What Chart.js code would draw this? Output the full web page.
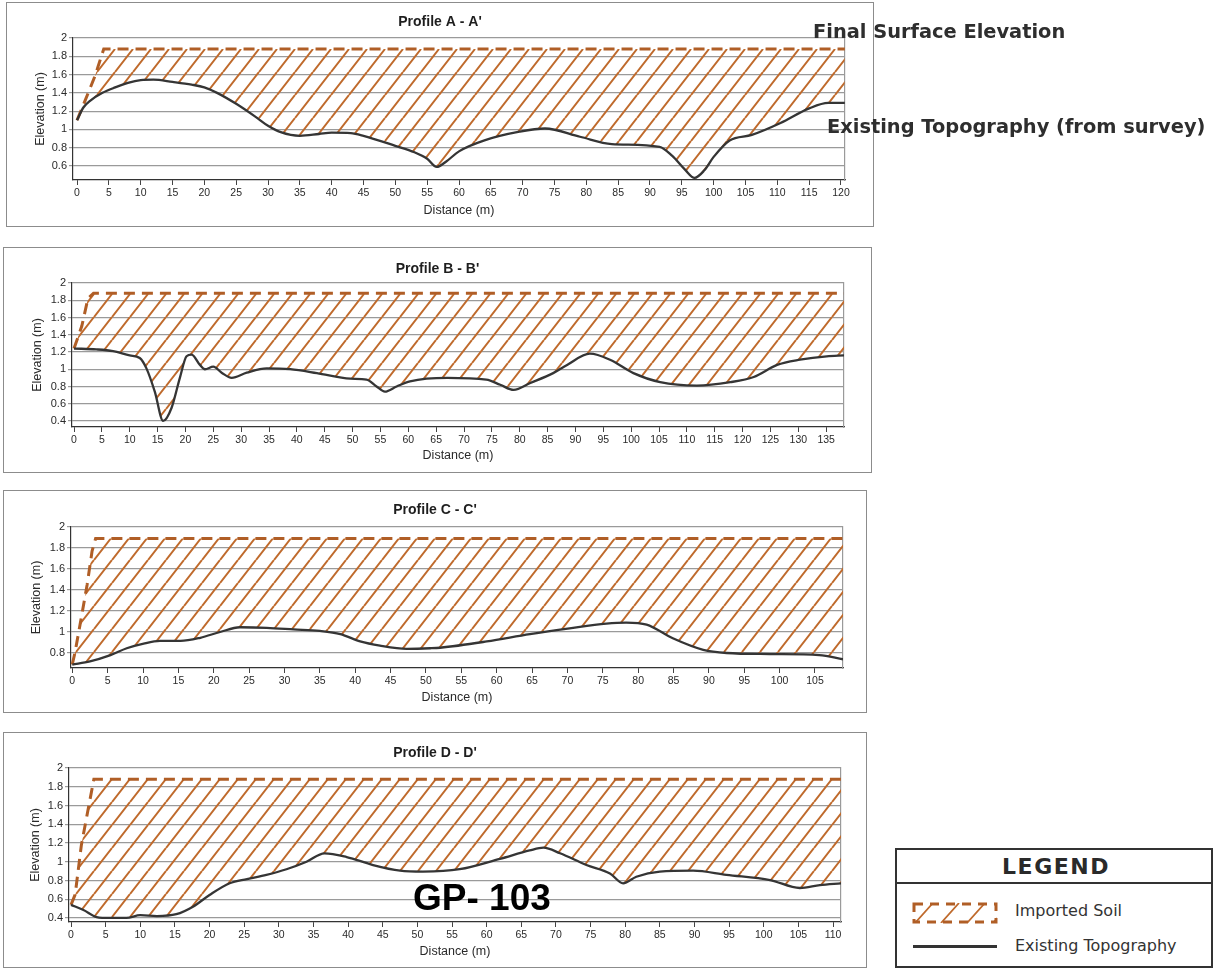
<!DOCTYPE html>
<html>
<head>
<meta charset="utf-8">
<title>Soil profiles GP-103</title>
<script src="https://cdn.jsdelivr.net/npm/chart.js@4.4.1/dist/chart.umd.min.js"></script>
<style>
  body { margin: 0; background: #fff; width: 1225px; height: 972px; overflow: hidden; position: relative;
         font-family: 'Liberation Sans', Arial, sans-serif; }
  .box { position: absolute; border: 1px solid #8c8c8c; background: #fff; }
  .box canvas { position: absolute; left: 0; top: 0; }
  .note { position: absolute; font-family: 'DejaVu Sans', Verdana, sans-serif; font-weight: bold;
          color: #2e2e2e; white-space: nowrap; font-size: 19.4px; line-height: 22px; }
  #gp { position: absolute; left: 413px; top: 878px; font: bold 37px/40px 'Liberation Sans', Arial, sans-serif; color: #000; }
  #legend { position: absolute; left: 895px; top: 848px; width: 314px; height: 116px; border: 2px solid #333; background: #fff;
            font-family: 'DejaVu Sans', Verdana, sans-serif; color: #333; }
  #legend .head { height: 32px; border-bottom: 2px solid #333; text-align: center; font-weight: bold; font-size: 22px;
                  line-height: 33px; letter-spacing: 1.5px; color: #2a2a2a; padding-left: 4px; }
  #legend .row { position: absolute; left: 118px; font-size: 16px; line-height: 20px; }
  #swatch { position: absolute; left: 14px; top: 51px; }
  #topoLine { position: absolute; left: 16px; top: 95px; width: 84px; height: 3px; background: #333; }
</style>
</head>
<body>

<div class="box" id="boxA"><canvas id="chartA"></canvas></div>
<div class="box" id="boxB"><canvas id="chartB"></canvas></div>
<div class="box" id="boxC"><canvas id="chartC"></canvas></div>
<div class="box" id="boxD"><canvas id="chartD"></canvas></div>

<div class="note" style="left:813px; top:21px;">Final Surface Elevation</div>
<div class="note" style="left:827px; top:116px;">Existing Topography (from survey)</div>
<div id="gp">GP- 103</div>

<div id="legend">
  <div class="head">LEGEND</div>
  <canvas id="swatch" width="90" height="24"></canvas>
  <div class="row" style="top:51px;">Imported Soil</div>
  <div id="topoLine"></div>
  <div class="row" style="top:86px;">Existing Topography</div>
</div>

<script>
// ---- Profile A - A' ----
const profileA_dist = [0, 1, 2, 4, 6, 8, 10, 12, 15, 18, 20, 22, 25, 28, 30, 32, 35, 38, 40, 43, 45, 50, 53, 55, 56.5, 58, 60, 64, 69.5, 73.5, 79, 84, 91.5, 93.5, 95.5, 97, 98.5, 100, 102.5, 106, 110.5, 115, 118, 120.6];
const profileA_elev = [1.1, 1.24, 1.31, 1.4, 1.46, 1.51, 1.54, 1.545, 1.52, 1.49, 1.46, 1.4, 1.28, 1.14, 1.04, 0.97, 0.93, 0.95, 0.965, 0.96, 0.93, 0.82, 0.75, 0.68, 0.59, 0.65, 0.76, 0.88, 0.975, 1.01, 0.92, 0.84, 0.81, 0.71, 0.56, 0.47, 0.55, 0.7, 0.88, 0.94, 1.07, 1.23, 1.29, 1.29];
const profileA_finalDist = [0, 1.3, 2.8, 4.2, 120.6];
const profileA_finalElev = [1.1, 1.32, 1.58, 1.88, 1.88];

// ---- Profile B - B' ----
const profileB_dist = [0, 4, 7, 10, 11.8, 13, 14.5, 16, 17.5, 19, 20.2, 21.1, 22.6, 23.5, 25, 26.5, 28.3, 31, 34.6, 38.8, 43.6, 49.6, 52.5, 54.3, 55.8, 57.9, 60.3, 67, 74, 76.5, 78.9, 81.9, 86, 88.5, 92.6, 96.2, 100.4, 105.2, 111.8, 117.8, 122, 126.2, 130.3, 135.1, 138.2];
const profileB_elev = [1.24, 1.23, 1.21, 1.16, 1.13, 1.01, 0.74, 0.4, 0.55, 0.9, 1.15, 1.17, 1.05, 1.0, 1.03, 0.96, 0.9, 0.96, 1.01, 1.0, 0.955, 0.89, 0.88, 0.8, 0.74, 0.8, 0.86, 0.9, 0.88, 0.82, 0.76, 0.84, 0.955, 1.05, 1.18, 1.11, 0.955, 0.85, 0.81, 0.85, 0.91, 1.05, 1.11, 1.15, 1.16];
const profileB_finalDist = [0, 1.4, 2.5, 3.5, 138.2];
const profileB_finalElev = [1.24, 1.5, 1.82, 1.88, 1.88];

// ---- Profile C - C' ----
const profileC_dist = [0, 2.5, 5.4, 7.7, 10.1, 12.4, 15.3, 18.1, 20.9, 23.7, 27.5, 31.3, 35, 37.9, 40.7, 43.5, 47.3, 50.6, 52, 58.6, 64.7, 70.3, 75.5, 78.3, 81.2, 84.9, 89.2, 92.5, 98.6, 105.6, 108.96];
const profileC_elev = [0.69, 0.72, 0.78, 0.845, 0.89, 0.915, 0.915, 0.945, 1.0, 1.045, 1.04, 1.025, 1.01, 0.98, 0.91, 0.87, 0.84, 0.845, 0.85, 0.91, 0.98, 1.035, 1.08, 1.09, 1.07, 0.94, 0.83, 0.8, 0.79, 0.78, 0.74];
const profileC_finalDist = [0, 0.4, 1.1, 2.1, 2.8, 3.3, 108.96];
const profileC_finalElev = [0.69, 0.81, 1.07, 1.45, 1.77, 1.89, 1.89];

// ---- Profile D - D' ----
const profileD_dist = [0, 1.8, 3.7, 5.6, 8, 10, 12.4, 15.2, 17.6, 20, 22.9, 25.4, 28.2, 31.1, 34, 36.6, 39.8, 43.6, 47.5, 50.8, 56.1, 61.9, 66.2, 68.2, 70.6, 74.4, 77.8, 79.7, 81.6, 85, 89.8, 94.6, 100.9, 105.2, 108.1, 111.15];
const profileD_elev = [0.54, 0.485, 0.41, 0.4, 0.4, 0.43, 0.42, 0.44, 0.52, 0.645, 0.77, 0.815, 0.86, 0.92, 1.0, 1.09, 1.05, 0.965, 0.905, 0.895, 0.92, 1.03, 1.12, 1.15, 1.09, 0.965, 0.875, 0.77, 0.84, 0.895, 0.905, 0.86, 0.805, 0.72, 0.75, 0.77];
const profileD_finalDist = [0, 0.6, 1.5, 2.5, 3.3, 111.15];
const profileD_finalElev = [0.54, 0.65, 1.18, 1.57, 1.88, 1.88];

const profileTitles = ["Profile A - A'", "Profile B - B'", "Profile C - C'", "Profile D - D'"];
const xStep = 5;
const yStep = 0.2;

const HATCH_COLOR = '#bf6a2c';
const DASH_COLOR = '#b05e26';
const TOPO_COLOR = '#353535';
const FONT = "'Liberation Sans', Arial, sans-serif";

Chart.defaults.font.family = FONT;
Chart.defaults.color = '#2a2a2a';

// diagonal "/" hatch used for the imported soil area
const hatchPattern = (ctx) => {
  const w = 18, h = 23;
  const tile = document.createElement('canvas');
  tile.width = w;
  tile.height = h;
  const g = tile.getContext('2d');
  g.strokeStyle = HATCH_COLOR;
  g.lineWidth = 2;
  g.beginPath();
  [-w, 0, w].forEach(dx => { g.moveTo(dx, h); g.lineTo(dx + w, 0); });
  g.stroke();
  return ctx.createPattern(tile, 'repeat');
};

const pairs = (xs, ys) => xs.map((x, i) => ({ x, y: ys[i] }));
const fmt = v => String(Math.round(v * 10) / 10);

/**
 * Draw one profile chart inside its framed box
 */
const drawProfile = (p) => {
  const [bl, bt, bw, bh] = p.box;
  const box = document.getElementById(p.boxId);
  const cw = bw - 2, ch = bh - 2, ox = bl + 1, oy = bt + 1;
  Object.assign(box.style, { left: bl + 'px', top: bt + 'px', width: cw + 'px', height: ch + 'px' });

  const canvas = document.getElementById(p.canvasId);
  canvas.width = cw;
  canvas.height = ch;
  canvas.style.width = cw + 'px';
  canvas.style.height = ch + 'px';
  const ctx = canvas.getContext('2d');

  // plot area in canvas coordinates
  const left = p.plot[0] - ox, right = p.plot[1] - ox, top = p.plot[2] - oy, bottom = p.plot[3] - oy;
  const titleTop = p.titleY - oy - 8.4;

  new Chart(ctx, {
    type: 'line',
    data: {
      datasets: [
        {
          label: 'Existing Topography',
          data: pairs(p.dist, p.elev),
          borderColor: TOPO_COLOR,
          borderWidth: 2.3,
          pointRadius: 0,
          cubicInterpolationMode: 'monotone',
          fill: false
        },
        {
          label: 'Imported Soil',
          data: pairs(p.finalDist, p.finalElev),
          borderColor: DASH_COLOR,
          borderWidth: 3,
          borderDash: [11, 7],
          pointRadius: 0,
          tension: 0,
          fill: { target: 0 },
          backgroundColor: hatchPattern(ctx)
        }
      ]
    },
    options: {
      responsive: false,
      animation: false,
      events: [],
      layout: { padding: 0 },
      plugins: {
        legend: { display: false },
        tooltip: { enabled: false },
        title: {
          display: true,
          text: p.title,
          color: '#1e1e1e',
          font: { size: 14, weight: 'bold', family: FONT },
          padding: { top: titleTop, bottom: top - titleTop - 16.8 }
        }
      },
      scales: {
        x: {
          type: 'linear',
          min: p.xMin,
          max: p.xMax,
          afterFit: s => { s.height = ch - bottom; },
          ticks: { stepSize: xStep, includeBounds: false, autoSkip: false, maxRotation: 0,
                   padding: 2, font: { size: 10.5 }, callback: v => fmt(v) },
          grid: { drawOnChartArea: false, drawTicks: true, tickLength: 5, color: '#444' },
          border: { color: '#333', width: 1.2 },
          title: { display: true, text: 'Distance (m)', font: { size: 12.5 }, color: '#2a2a2a',
                   padding: { top: 0, bottom: (oy + ch) - p.xTitleY - 7.5 } }
        },
        y: {
          min: p.yMin,
          max: 2,
          afterFit: s => { s.width = left; },
          ticks: { stepSize: yStep, includeBounds: false, padding: 2, font: { size: 11 },
                   callback: v => fmt(v) },
          grid: { color: '#9a9a9a', lineWidth: 1.2, tickLength: 4 },
          border: { color: '#333', width: 1.2 },
          title: { display: true, text: 'Elevation (m)', font: { size: 12.5 }, color: '#2a2a2a',
                   padding: { top: p.yTitleX - ox - 7.5, bottom: 0 } }
        },
        // empty right axis: keeps the right margin and draws the plot frame
        frame: {
          type: 'linear',
          position: 'right',
          display: true,
          afterFit: s => { s.width = cw - right; },
          ticks: { display: false },
          grid: { display: false },
          border: { color: '#9a9a9a', width: 1.2 }
        }
      }
    }
  });
};

const profiles = [
  { boxId: 'boxA', canvasId: 'chartA', title: profileTitles[0], box: [6, 2, 868, 225],
    plot: [73, 845, 38, 180], titleY: 22, yTitleX: 41, xTitleY: 211,
    xMin: -0.63, xMax: 120.63, yMin: 0.447,
    dist: profileA_dist, elev: profileA_elev, finalDist: profileA_finalDist, finalElev: profileA_finalElev },
  { boxId: 'boxB', canvasId: 'chartB', title: profileTitles[1], box: [3, 247, 869, 226],
    plot: [72, 844, 283, 427], titleY: 269, yTitleX: 38, xTitleY: 456,
    xMin: -0.36, xMax: 138.2, yMin: 0.33,
    dist: profileB_dist, elev: profileB_elev, finalDist: profileB_finalDist, finalElev: profileB_finalElev },
  { boxId: 'boxC', canvasId: 'chartC', title: profileTitles[2], box: [3, 490, 864, 223],
    plot: [71, 843, 527, 668], titleY: 510, yTitleX: 37, xTitleY: 698,
    xMin: -0.18, xMax: 108.96, yMin: 0.657,
    dist: profileC_dist, elev: profileC_elev, finalDist: profileC_finalDist, finalElev: profileC_finalElev },
  { boxId: 'boxD', canvasId: 'chartD', title: profileTitles[3], box: [3, 732, 864, 236],
    plot: [69, 841, 768, 922], titleY: 753, yTitleX: 36, xTitleY: 952,
    xMin: -0.29, xMax: 111.15, yMin: 0.357,
    dist: profileD_dist, elev: profileD_elev, finalDist: profileD_finalDist, finalElev: profileD_finalElev }
];

profiles.forEach(drawProfile);

// legend swatch for imported soil
const drawSwatch = () => {
  const c = document.getElementById('swatch');
  const g = c.getContext('2d');
  g.save();
  g.beginPath();
  g.rect(2, 2, 84, 20);
  g.clip();
  g.strokeStyle = HATCH_COLOR;
  g.lineWidth = 1.8;
  g.beginPath();
  for (let x = 4; x < 100; x += 26) { g.moveTo(x, 22); g.lineTo(x + 18, 2); }
  g.stroke();
  g.restore();
  g.strokeStyle = DASH_COLOR;
  g.lineWidth = 3;
  g.setLineDash([9, 7]);
  g.strokeRect(3, 3, 82, 18);
};
drawSwatch();
</script>
</body>
</html>
